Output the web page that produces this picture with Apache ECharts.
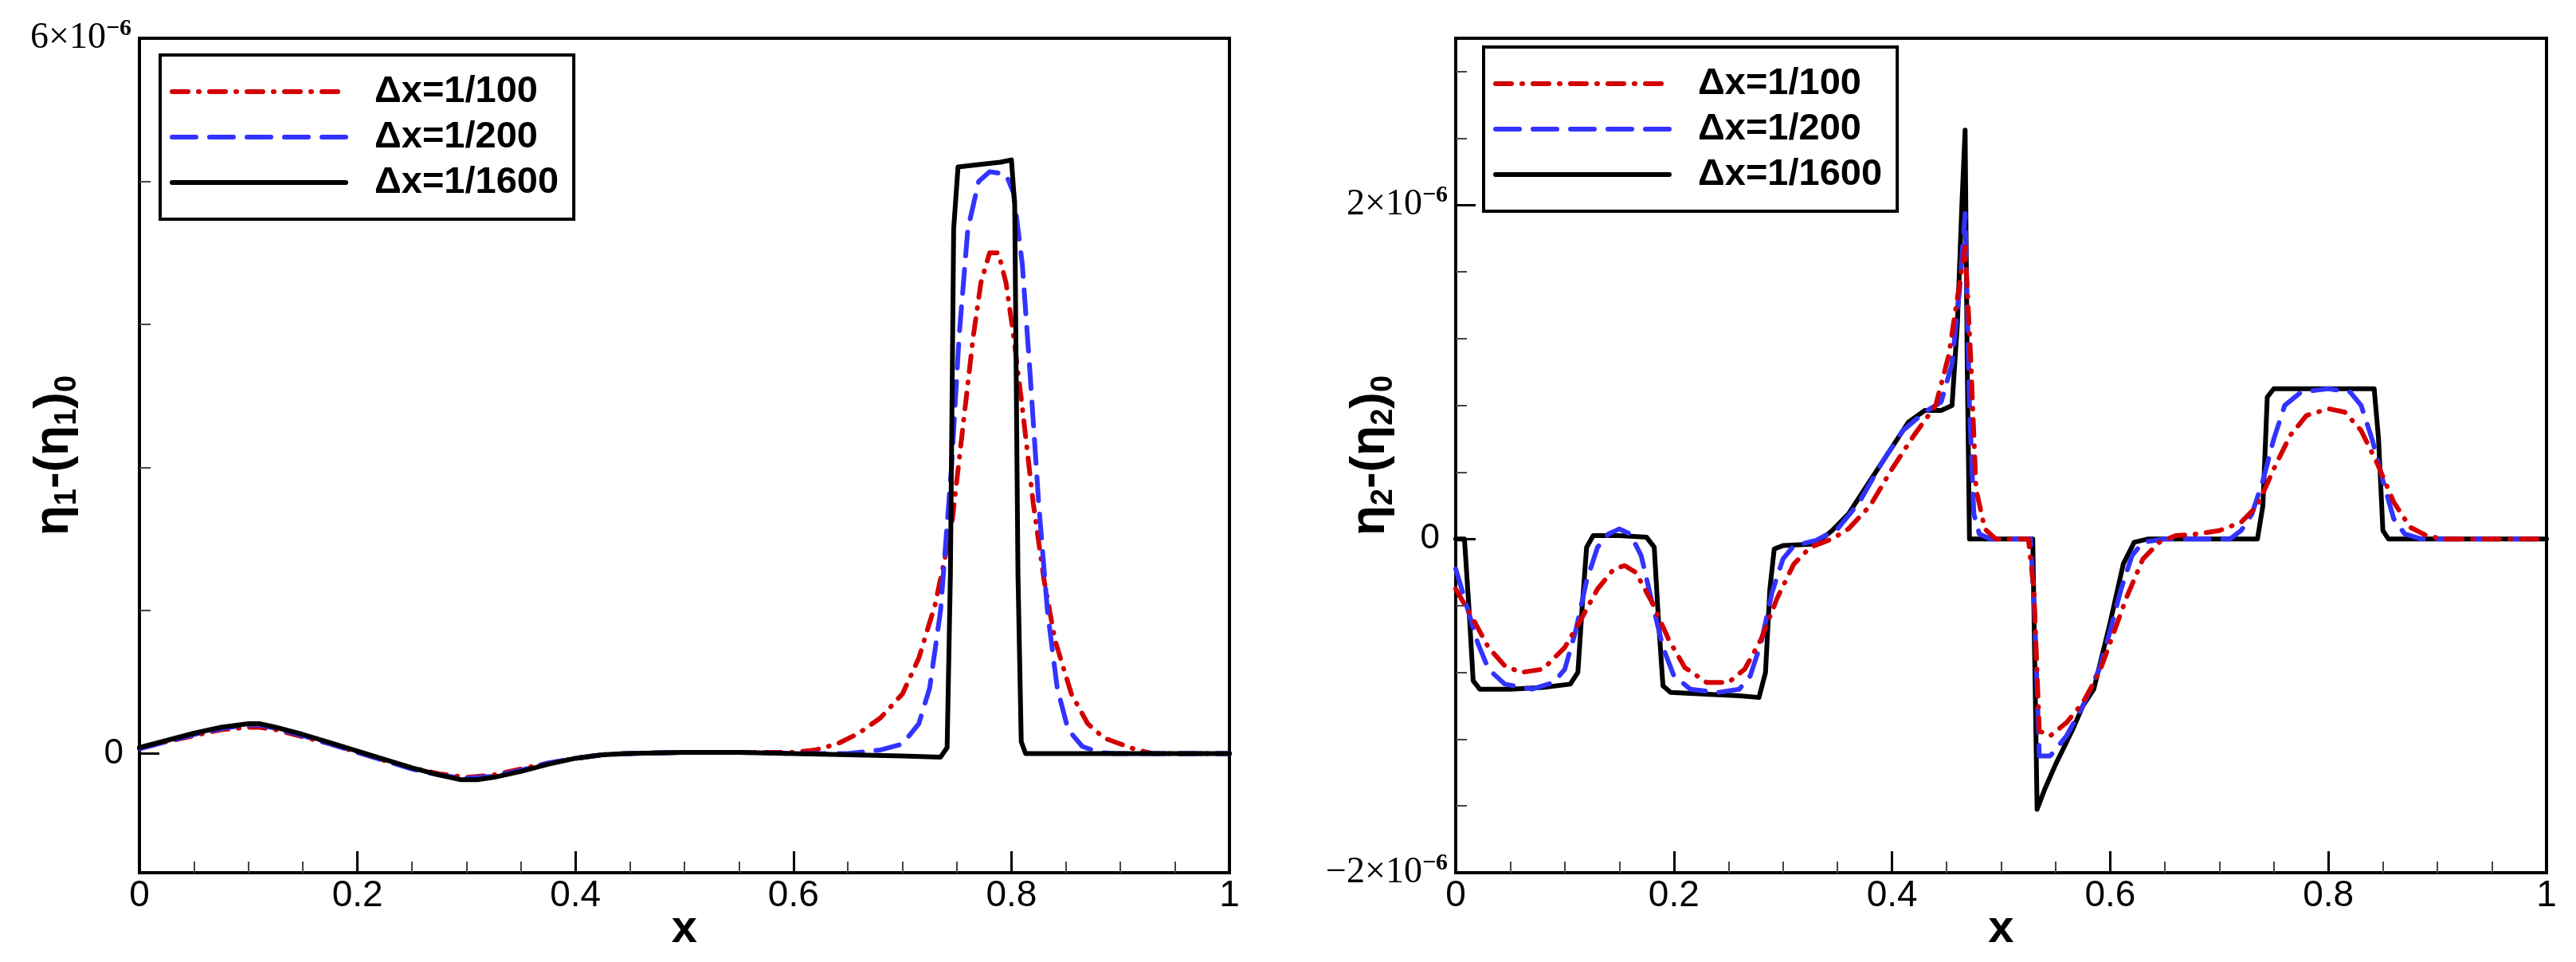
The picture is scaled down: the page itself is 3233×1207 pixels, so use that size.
<!DOCTYPE html>
<html>
<head>
<meta charset="utf-8">
<script src="https://cdn.jsdelivr.net/npm/echarts@6/dist/echarts.min.js"></script>
<style>
  html, body { margin: 0; padding: 0; background: #fff; }
  #main { width: 3233px; height: 1207px; }
</style>
</head>
<body>
<div id="main"></div>
<script>
// ==================================================
// data (y values in units of 1e-6)
var seriesNames = ['\u0394x=1/100', '\u0394x=1/200', '\u0394x=1/1600'];

var xTickValues = [0, 0.2, 0.4, 0.6, 0.8, 1];

// left panel : eta1 - (eta1)_0
var eta1_dx100 = [[0,0.04],[0.025,0.1],[0.05,0.15],[0.075,0.2],[0.1,0.22],[0.11,0.22],[0.125,0.2],[0.15,0.14],[0.175,0.08],[0.2,0.01],[0.225,-0.06],[0.25,-0.12],[0.275,-0.17],[0.3,-0.2],[0.325,-0.18],[0.35,-0.13],[0.375,-0.08],[0.4,-0.04],[0.425,-0.01],[0.45,0],[0.5,0.01],[0.55,0.01],[0.6,0.01],[0.62,0.03],[0.64,0.08],[0.66,0.17],[0.68,0.3],[0.7,0.5],[0.715,0.8],[0.73,1.25],[0.745,1.9],[0.755,2.7],[0.765,3.5],[0.772,3.95],[0.78,4.2],[0.788,4.2],[0.795,3.95],[0.802,3.5],[0.81,2.9],[0.82,2.1],[0.83,1.45],[0.84,0.95],[0.855,0.5],[0.87,0.25],[0.885,0.13],[0.9,0.08],[0.915,0.03],[0.93,0],[1,0]];
var eta1_dx200 = [[0,0.04],[0.025,0.1],[0.05,0.16],[0.075,0.21],[0.1,0.24],[0.11,0.24],[0.125,0.21],[0.15,0.15],[0.175,0.08],[0.2,0.01],[0.225,-0.06],[0.25,-0.13],[0.275,-0.18],[0.3,-0.21],[0.325,-0.19],[0.35,-0.14],[0.375,-0.08],[0.4,-0.04],[0.425,-0.01],[0.45,0],[0.5,0.01],[0.55,0.01],[0.6,0],[0.65,0],[0.68,0.03],[0.7,0.08],[0.715,0.25],[0.725,0.55],[0.735,1.2],[0.745,2.4],[0.752,3.5],[0.76,4.4],[0.77,4.8],[0.78,4.88],[0.795,4.86],[0.802,4.7],[0.81,4.1],[0.817,3.2],[0.825,2.1],[0.833,1.2],[0.842,0.55],[0.852,0.2],[0.865,0.06],[0.88,0.01],[0.895,0],[1,0]];
var eta1_dx1600 = [[0,0.05],[0.025,0.11],[0.05,0.17],[0.075,0.22],[0.1,0.25],[0.11,0.25],[0.125,0.22],[0.15,0.16],[0.175,0.09],[0.2,0.02],[0.225,-0.05],[0.25,-0.12],[0.275,-0.18],[0.295,-0.22],[0.31,-0.22],[0.325,-0.2],[0.35,-0.15],[0.375,-0.09],[0.4,-0.04],[0.425,-0.01],[0.445,0],[0.5,0.01],[0.55,0.01],[0.6,0],[0.65,-0.01],[0.7,-0.02],[0.735,-0.03],[0.741,0.05],[0.744,1.5],[0.747,4.4],[0.751,4.92],[0.77,4.94],[0.79,4.96],[0.8,4.98],[0.803,4.6],[0.806,1.5],[0.809,0.1],[0.813,0],[1,0]];

// right panel : eta2 - (eta2)_0
var eta2_dx100 = [[0,-0.3],[0.015,-0.47],[0.03,-0.65],[0.045,-0.76],[0.06,-0.8],[0.08,-0.78],[0.1,-0.65],[0.115,-0.48],[0.13,-0.3],[0.145,-0.18],[0.155,-0.16],[0.165,-0.2],[0.18,-0.38],[0.195,-0.6],[0.21,-0.77],[0.23,-0.86],[0.25,-0.86],[0.265,-0.78],[0.28,-0.6],[0.295,-0.35],[0.31,-0.15],[0.325,-0.05],[0.345,0],[0.36,0.06],[0.38,0.2],[0.4,0.42],[0.42,0.62],[0.44,0.8],[0.452,1.1],[0.46,1.45],[0.467,1.75],[0.472,1.1],[0.477,0.3],[0.485,0.06],[0.495,0],[0.525,0],[0.53,-0.3],[0.535,-1.15],[0.545,-1.18],[0.56,-1.1],[0.575,-0.98],[0.59,-0.8],[0.6,-0.62],[0.615,-0.35],[0.63,-0.12],[0.645,-0.02],[0.66,0.02],[0.68,0.03],[0.7,0.05],[0.72,0.1],[0.735,0.2],[0.75,0.42],[0.765,0.62],[0.78,0.74],[0.8,0.78],[0.815,0.76],[0.83,0.65],[0.845,0.45],[0.86,0.22],[0.875,0.07],[0.89,0.02],[0.905,0],[1,0]];
var eta2_dx200 = [[0,-0.18],[0.01,-0.4],[0.02,-0.62],[0.03,-0.78],[0.045,-0.87],[0.07,-0.9],[0.09,-0.86],[0.1,-0.78],[0.11,-0.55],[0.12,-0.25],[0.13,-0.05],[0.14,0.03],[0.15,0.06],[0.16,0.03],[0.17,-0.1],[0.18,-0.38],[0.19,-0.65],[0.2,-0.82],[0.215,-0.9],[0.24,-0.92],[0.26,-0.9],[0.27,-0.82],[0.28,-0.62],[0.29,-0.32],[0.3,-0.12],[0.31,-0.04],[0.33,-0.01],[0.35,0.06],[0.37,0.22],[0.39,0.45],[0.41,0.65],[0.43,0.76],[0.445,0.82],[0.455,1.05],[0.462,1.5],[0.467,1.95],[0.471,0.8],[0.475,0.15],[0.48,0.03],[0.49,0],[0.527,0],[0.531,-0.5],[0.535,-1.3],[0.545,-1.3],[0.56,-1.18],[0.575,-1],[0.59,-0.78],[0.6,-0.55],[0.61,-0.3],[0.62,-0.1],[0.63,-0.02],[0.65,0],[0.71,0],[0.72,0.05],[0.73,0.15],[0.74,0.35],[0.75,0.6],[0.76,0.8],[0.775,0.88],[0.8,0.9],[0.82,0.88],[0.83,0.8],[0.84,0.6],[0.85,0.35],[0.86,0.12],[0.87,0.03],[0.885,0],[1,0]];
var eta2_dx1600 = [[0,0],[0.008,0],[0.012,-0.4],[0.016,-0.85],[0.022,-0.9],[0.05,-0.9],[0.08,-0.89],[0.105,-0.87],[0.112,-0.8],[0.116,-0.4],[0.12,-0.05],[0.126,0.02],[0.15,0.02],[0.175,0.01],[0.182,-0.05],[0.186,-0.5],[0.19,-0.88],[0.197,-0.92],[0.23,-0.93],[0.26,-0.94],[0.278,-0.95],[0.284,-0.8],[0.288,-0.3],[0.292,-0.06],[0.3,-0.04],[0.33,-0.03],[0.345,0.05],[0.36,0.15],[0.38,0.35],[0.4,0.55],[0.415,0.7],[0.43,0.77],[0.445,0.77],[0.455,0.8],[0.46,1.3],[0.464,2],[0.467,2.45],[0.469,1],[0.471,0],[0.5,0],[0.529,0],[0.531,-0.8],[0.533,-1.62],[0.54,-1.5],[0.55,-1.35],[0.565,-1.15],[0.575,-1],[0.585,-0.9],[0.6,-0.5],[0.612,-0.15],[0.622,-0.02],[0.635,0],[0.735,0],[0.74,0.2],[0.744,0.85],[0.75,0.9],[0.8,0.9],[0.842,0.9],[0.846,0.6],[0.85,0.05],[0.855,0],[1,0]];

// y axis ticks
var eta1_labelValues = [0, 6];
var eta1_majorTicks = [0];
var eta1_minorTicks = [1.2, 2.4, 3.6, 4.8];
var eta2_labelValues = [-2, 0, 2];
var eta2_majorTicks = [0, 2];
var eta2_minorTicks = [-1.6, -1.2, -0.8, -0.4, 0.4, 0.8, 1.2, 1.6, 2.4, 2.8];

// ==================================================
var SANS = 'Liberation Sans, Arial, Helvetica, sans-serif';
var SERIF = 'Liberation Serif, DejaVu Serif, serif';
var colors = ['#d40000', '#3333ff', '#000000'];
var dashes = [[20, 13, 1, 13], [30, 17], 'solid'];

var myChart = echarts.init(document.getElementById('main'), null, { renderer: 'canvas' });

function yLabel(v) {
  if (Math.abs(v) < 1e-9) return '{z|0}';
  var s = (v < 0 ? '\u2212' : '') + Math.abs(v);
  return '{m|' + s + '\u00d710}{e|\u22126}';
}

var yRich = {
  z: { fontFamily: SANS, fontSize: 44, color: '#000', padding: [0, 10, 0, 0] },
  m: { fontFamily: SERIF, fontSize: 46, color: '#000', lineHeight: 54 },
  e: { fontFamily: SERIF, fontSize: 30, fontWeight: 'bold', color: '#000', verticalAlign: 'top', lineHeight: 30 }
};

function xAxisCfg(gi) {
  return {
    type: 'value', gridIndex: gi, min: 0, max: 1, interval: 0.2,
    axisLine: { show: false, onZero: false },
    axisTick: { show: true, inside: true, length: 27, lineStyle: { color: '#000', width: 3 } },
    minorTick: { show: true, splitNumber: 4, length: 14, lineStyle: { color: '#444', width: 2 } },
    splitLine: { show: false },
    axisLabel: {
      margin: 6, fontSize: 46, fontFamily: SANS, color: '#000',
      formatter: function (v) { return String(+v.toFixed(1)); }
    },
    name: 'x', nameLocation: 'middle', nameGap: 42, nameMoveOverlap: false,
    nameTextStyle: { fontSize: 58, fontWeight: 'bold', fontFamily: SANS, color: '#000' }
  };
}

function yMainCfg(gi, min, max, labels, ticks, sub) {
  return {
    type: 'value', gridIndex: gi, min: min, max: max, position: 'left',
    axisLine: { show: false, onZero: false },
    splitLine: { show: false },
    axisTick: { show: true, inside: true, length: 25, customValues: ticks, lineStyle: { color: '#000', width: 3 } },
    axisLabel: { show: true, customValues: labels, margin: 10, formatter: yLabel, rich: yRich },
    name: '{m|\u03b7}{s|' + sub + '}{m|-(\u03b7}{s|' + sub + '}{m|)}{s|0}',
    nameLocation: 'middle', nameRotate: 90, nameGap: 71, nameMoveOverlap: false,
    nameTextStyle: {
      rich: {
        m: { fontSize: 62, fontWeight: 'bold', fontFamily: SANS, color: '#000', lineHeight: 72 },
        s: { fontSize: 38, fontWeight: 'bold', fontFamily: SANS, color: '#000', verticalAlign: 'bottom', lineHeight: 38 }
      }
    }
  };
}

function yMinorCfg(gi, min, max, ticks) {
  return {
    type: 'value', gridIndex: gi, min: min, max: max, position: 'left', offset: 0,
    axisLine: { show: false, onZero: false },
    splitLine: { show: false },
    axisLabel: { show: false },
    axisTick: { show: true, inside: true, length: 14, customValues: ticks, lineStyle: { color: '#444', width: 2 } }
  };
}

function legendCfg(left, top) {
  return {
    orient: 'vertical', left: left, top: top,
    data: seriesNames,
    itemWidth: 218, itemHeight: 14, itemGap: 7,
    padding: [21, 19, 21, 12],
    borderColor: '#000', borderWidth: 4, backgroundColor: '#fff',
    selectedMode: false,
    formatter: function (n) { return '{t|' + n + '}'; },
    lineStyle: { width: 'inherit' },
    itemStyle: { opacity: 0 },
    textStyle: {
      fontSize: 47, fontWeight: 'bold', fontFamily: SANS, color: '#000', lineHeight: 50,
      rich: { t: { fontSize: 47, fontWeight: 'bold', fontFamily: SANS, color: '#000', lineHeight: 50, padding: [0, 0, 0, 31] } }
    }
  };
}

function lineSeries(name, idx, gi, yi, data, z) {
  return {
    type: 'line', name: name, xAxisIndex: gi, yAxisIndex: yi,
    data: data, symbol: 'none', showSymbol: false, smooth: false, z: z,
    lineStyle: { color: colors[idx], width: 6, type: dashes[idx], cap: 'round', join: 'round' },
    itemStyle: { color: colors[idx] }
  };
}

var option = {
  backgroundColor: '#fff',
  animation: false,
  grid: [
    { left: 175, top: 48, width: 1368, height: 1047, show: true, borderColor: '#000', borderWidth: 4, backgroundColor: 'transparent' },
    { left: 1827, top: 48, width: 1369, height: 1047, show: true, borderColor: '#000', borderWidth: 4, backgroundColor: 'transparent' }
  ],
  legend: [legendCfg(201, 69), legendCfg(1862, 59)],
  xAxis: [xAxisCfg(0), xAxisCfg(1)],
  yAxis: [
    yMainCfg(0, -1, 6, eta1_labelValues, eta1_majorTicks, '1'),
    yMinorCfg(0, -1, 6, eta1_minorTicks),
    yMainCfg(1, -2, 3, eta2_labelValues, eta2_majorTicks, '2'),
    yMinorCfg(1, -2, 3, eta2_minorTicks)
  ],
  series: [
    lineSeries(seriesNames[0], 0, 0, 0, eta1_dx100, 2),
    lineSeries(seriesNames[1], 1, 0, 0, eta1_dx200, 3),
    lineSeries(seriesNames[2], 2, 0, 0, eta1_dx1600, 4),
    lineSeries(seriesNames[0], 0, 1, 2, eta2_dx100, 4),
    lineSeries(seriesNames[1], 1, 1, 2, eta2_dx200, 3),
    lineSeries(seriesNames[2], 2, 1, 2, eta2_dx1600, 2)
  ]
};

myChart.setOption(option);

window.addEventListener('resize', function () {
  myChart.resize();
});
</script>
</body>
</html>
